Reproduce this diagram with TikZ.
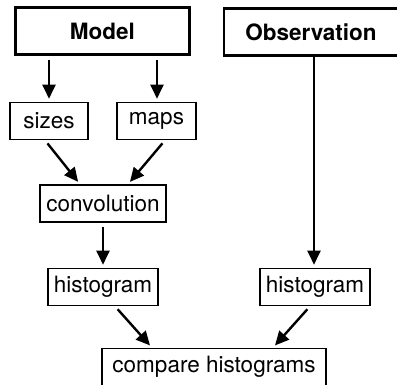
\documentclass[tikz,border=0pt]{standalone}
\usepackage{fontspec}
\setmainfont{TeX Gyre Heros}
\usepackage{tikz}
\usetikzlibrary{arrows.meta}

\newcommand{\diagfont}{\fontsize{22.5}{27}\selectfont}

\tikzset{
  box/.style={draw, line width=1.6pt, inner sep=0pt, minimum height=37pt},
  bigbox/.style={draw, line width=2.6pt, inner sep=0pt, minimum height=47pt, font=\diagfont\bfseries},
  arr/.style={line width=2.4pt, -{Triangle[length=14pt,width=13pt]}, shorten >=3pt, shorten <=4pt}
}

\begin{document}
\begin{tikzpicture}[x=1pt, y=-1pt, font=\diagfont]
            \useasboundingbox (0,0) rectangle (397,385);

            \node[bigbox, minimum width=174pt] (Mod) at (102.5,31) {Model};
            \node[bigbox, minimum width=174pt] (Obs) at (311,32) {Observation};

            \node[box, minimum width=78pt] (Siz) at (49,121) {sizes};
            \node[box, minimum width=79pt] (Map) at (156.5,121) {maps};
            \node[box, minimum width=126pt] (Conv) at (103,203.5) {convolution};
            \node[box, minimum width=110pt] (HistM) at (103,287) {histogram};
            \node[box, minimum width=110pt] (HistO) at (315,287) {histogram};
            \node[box, minimum width=224pt] (Comp) at (214,367) {compare histograms};

            \draw[arr] (Siz.north |- Mod.south) -- (Siz.north);
            \draw[arr] ([xshift=0.5pt]Map.north |- Mod.south) -- ([xshift=0.5pt]Map.north);
            \draw[arr] ([xshift=-4pt]Siz.south) -- ([xshift=-23pt]Conv.north);
            \draw[arr] ([xshift=8.5pt]Map.south) -- ([xshift=25pt]Conv.north);
            \draw[arr] (Conv) -- (HistM);
            \draw[arr, shorten <=0pt] ([xshift=-1pt]HistO.north |- Obs.south) -- ([xshift=-1pt]HistO.north);
            \draw[arr] ([xshift=12pt]HistM.south) -- ([xshift=-62pt]Comp.north);
            \draw[arr] ([xshift=-5pt]HistO.south) -- ([xshift=59pt]Comp.north);
\end{tikzpicture}
\end{document}
